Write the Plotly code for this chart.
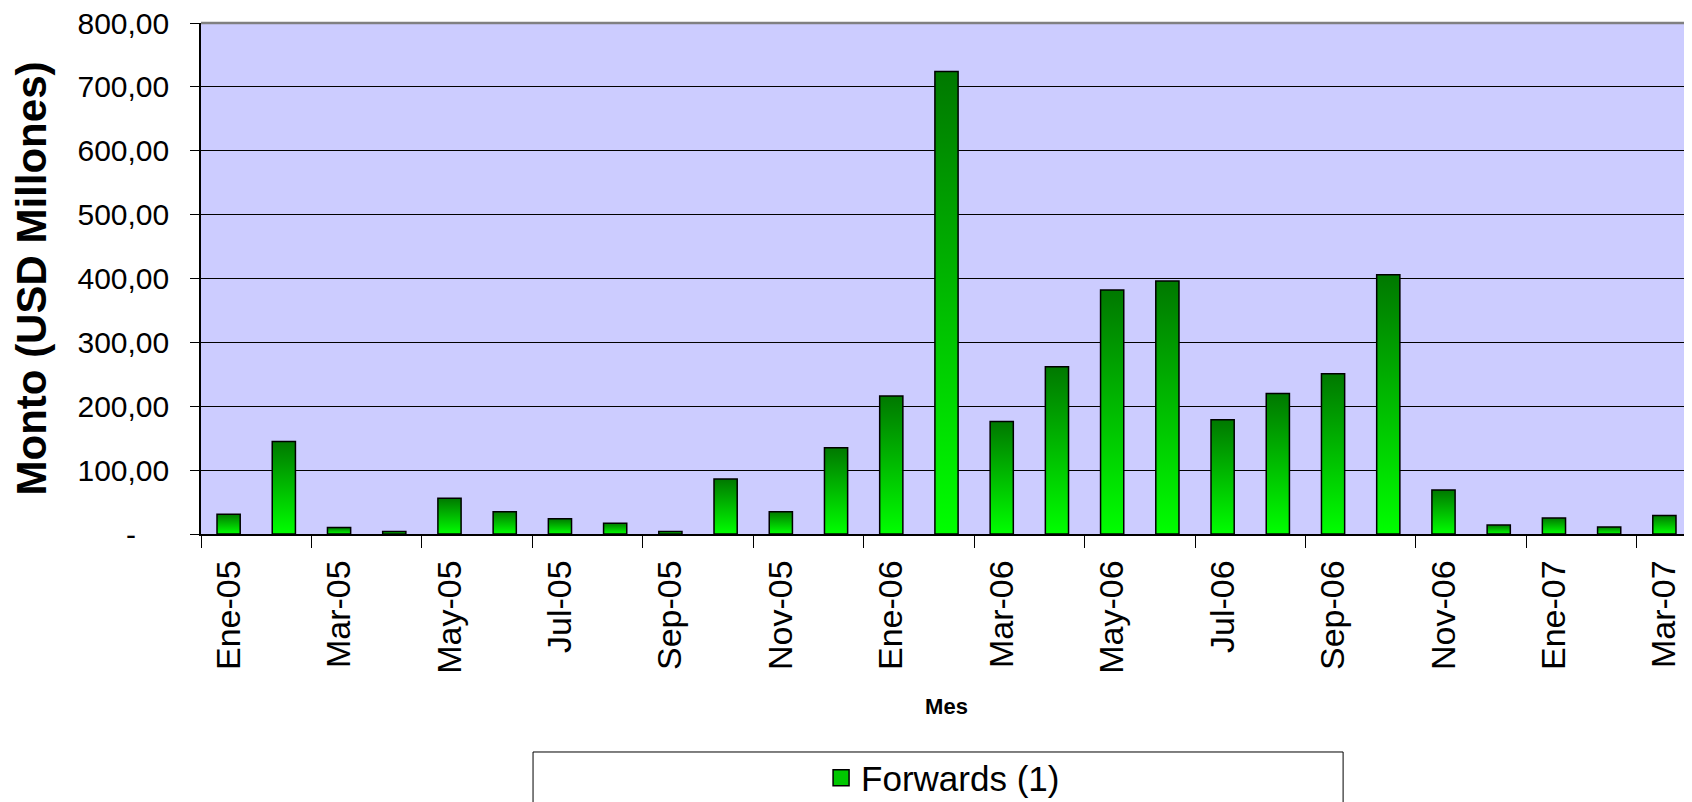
"""Forwards monthly amounts, Ene-05 to Mar-07, bar chart with gradient fills."""

import plotly.graph_objects as go

# ── Data ──
MONTHS = [
    "Ene-05", "Feb-05", "Mar-05", "Abr-05", "May-05", "Jun-05", "Jul-05",
    "Ago-05", "Sep-05", "Oct-05", "Nov-05", "Dic-05",
    "Ene-06", "Feb-06", "Mar-06", "Abr-06", "May-06", "Jun-06", "Jul-06",
    "Ago-06", "Sep-06", "Oct-06", "Nov-06", "Dic-06",
    "Ene-07", "Feb-07", "Mar-07",
]
FORWARDS = [
    31, 145, 10, 4, 56, 35, 24, 17, 4, 86, 35, 135,
    216, 724, 176, 262, 382, 396, 179, 220, 251, 406, 69, 14,
    25, 11, 29,
]
Y_TICKS = [0, 100, 200, 300, 400, 500, 600, 700, 800]
Y_TICK_TEXT = ["-\u00a0\u00a0\u00a0\u00a0", "100,00", "200,00", "300,00",
               "400,00", "500,00", "600,00", "700,00", "800,00"]

# ── Style ──
PLOT_BG = "#CCCCFF"
BAR_WIDTH = 0.42
GRADIENT = [[0, "#00FF00"], [1, "#007800"]]
SANS = "Liberation Sans, Arial, sans-serif"

fig = go.Figure()

# legend entry only
fig.add_trace(go.Scatter(
    x=[None], y=[None], name="Forwards (1)", mode="markers",
    marker=dict(symbol="square", size=20, color="#00C800",
                line=dict(color="black", width=1.5)),
))

half = BAR_WIDTH / 2
for i, v in enumerate(FORWARDS):
    fig.add_trace(go.Scatter(
        x=[i - half, i - half, i + half, i + half, i - half],
        y=[0, v, v, 0, 0],
        mode="lines",
        fill="toself",
        fillgradient=dict(type="vertical", colorscale=GRADIENT),
        line=dict(color="black", width=1.5),
        showlegend=False,
        hovertemplate=f"{MONTHS[i]}: {v:,.2f}<extra></extra>",
    ))

idx = list(range(len(MONTHS)))
# page body has an 8px margin, so the figure is drawn 8px in from the top/left
fig.update_layout(
    width=1684,
    height=794,
    paper_bgcolor="white",
    plot_bgcolor=PLOT_BG,
    margin=dict(l=193, r=0, t=15, b=268, autoexpand=False),
    font=dict(family=SANS, color="black"),
    showlegend=True,
    legend=dict(
        orientation="h", x=0.4977, xanchor="center", y=-0.4775, yanchor="middle",
        font=dict(family=SANS, size=35), bgcolor="rgba(0,0,0,0)",
    ),
    shapes=[
        # legend frame
        dict(type="rect", xref="paper", yref="paper", x0=0.2227, x1=0.766,
             y0=-0.4266, y1=-0.62, line=dict(color="black", width=1)),
        # top border of plot area
        dict(type="line", xref="paper", yref="paper", x0=0, x1=1, y0=1, y1=1,
             line=dict(color="#808080", width=2.5)),
    ],
)

fig.update_xaxes(
    range=[-0.5, len(MONTHS) - 0.5],
    tickmode="array",
    tickvals=idx[::2],
    ticktext=MONTHS[::2],
    tickangle=-90,
    ticks="",
    ticklabelstandoff=11,
    tickfont=dict(family=SANS, size=34),
    minor=dict(
        tickmode="array",
        tickvals=[i - 0.5 for i in idx[::2]],
        ticks="outside", ticklen=12, tickwidth=1, tickcolor="black",
        showgrid=False,
    ),
    showgrid=False,
    zeroline=False,
    showline=True, linecolor="black", linewidth=1.5,
    title=dict(text="<b>Mes</b>", font=dict(family=SANS, size=22), standoff=26),
)

fig.update_yaxes(
    range=[0, 800],
    tickmode="array",
    tickvals=Y_TICKS,
    ticktext=Y_TICK_TEXT,
    ticks="outside", ticklen=9, tickwidth=1, tickcolor="black",
    ticklabelstandoff=15,
    ticklabeloverflow="allow",
    tickfont=dict(family=SANS, size=30),
    showgrid=True, gridcolor="black", gridwidth=1,
    zeroline=False,
    showline=True, linecolor="black", linewidth=1.5,
    title=dict(text="<b>Monto (USD Millones)</b>", font=dict(family=SANS, size=42),
               standoff=24),
)

fig.write_html("out.html")
